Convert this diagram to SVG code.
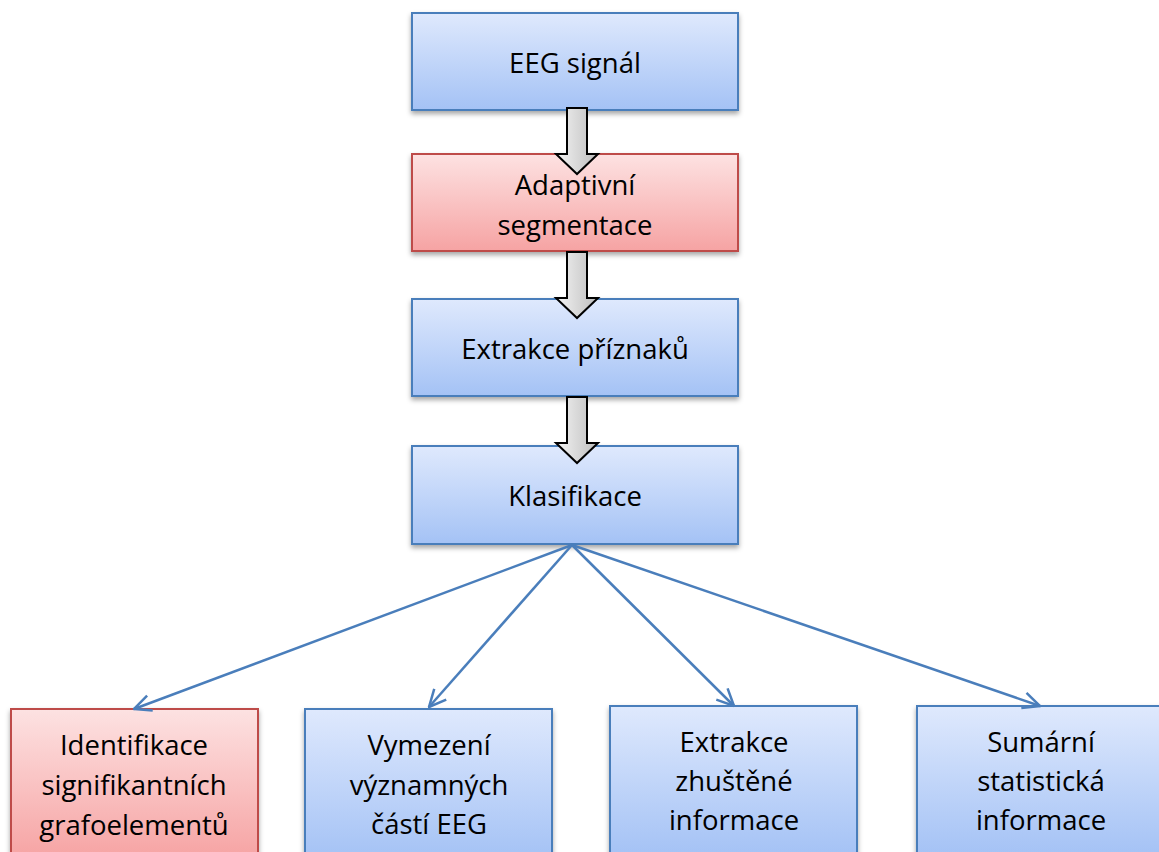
<svg xmlns="http://www.w3.org/2000/svg" width="1159" height="852" viewBox="0 0 1159 852">
<defs>
<linearGradient id="gb" x1="0" y1="0" x2="0" y2="1"><stop offset="0" stop-color="#dfe9fd"/><stop offset="1" stop-color="#a4c2f5"/></linearGradient>
<linearGradient id="gr" x1="0" y1="0" x2="0" y2="1"><stop offset="0" stop-color="#fde2e2"/><stop offset="1" stop-color="#f6a3a3"/></linearGradient>
<linearGradient id="ga" x1="0" y1="0" x2="1" y2="0"><stop offset="0" stop-color="#f4f4f4"/><stop offset="1" stop-color="#bdbdbd"/></linearGradient>
<filter id="sh" x="-10%" y="-10%" width="120%" height="130%"><feDropShadow dx="0" dy="3" stdDeviation="2.5" flood-color="#000" flood-opacity="0.35"/></filter>
<marker id="ah" viewBox="0 0 20 20" refX="19" refY="10" markerWidth="20" markerHeight="20" markerUnits="userSpaceOnUse" orient="auto"><path d="M2,2 L19,10 L2,18" fill="none" stroke="#4a7ebb" stroke-width="2.5"/></marker>
<path id="barrow" d="M-10,0 H10 V46 H21 L0,66 L-21,46 H-10 Z"/>
</defs>
<style>
.bb{fill:url(#gb);stroke:#4a7ebb;stroke-width:2;filter:url(#sh)}
.rb{fill:url(#gr);stroke:#be4b48;stroke-width:2;filter:url(#sh)}
text{font-family:"Open Sans","Liberation Sans",sans-serif;font-size:27.5px;fill:#000;text-anchor:middle}
.ba{fill:url(#ga);stroke:#000;stroke-width:2}
.cn{stroke:#4a7ebb;stroke-width:2.5;fill:none}
</style>
<g id="n1"><rect class="bb" x="412" y="13" width="326" height="97"/><text x="575" y="73">EEG signál</text></g>
<g id="n2"><rect class="rb" x="412" y="154" width="326" height="97"/><text x="575" y="195">Adaptivní</text><text x="575" y="235">segmentace</text></g>
<g id="n3"><rect class="bb" x="412" y="299" width="326" height="97"/><text x="575" y="359">Extrakce příznaků</text></g>
<g id="n4"><rect class="bb" x="412" y="446" width="326" height="98"/><text x="575" y="506">Klasifikace</text></g>
<g id="n5"><rect class="rb" x="11" y="709" width="247" height="150"/><text x="134" y="755">Identifikace</text><text x="134" y="795">signifikantních</text><text x="134" y="835">grafoelementů</text></g>
<g id="n6"><rect class="bb" x="305" y="709" width="247" height="150"/><text x="429" y="755">Vymezení</text><text x="429" y="795">významných</text><text x="429" y="834">částí EEG</text></g>
<g id="n7"><rect class="bb" x="610" y="706" width="247" height="150"/><text x="734" y="752">Extrakce</text><text x="734" y="791">zhuštěné</text><text x="734" y="830">informace</text></g>
<g id="n8"><rect class="bb" x="917" y="706" width="250" height="150"/><text x="1041" y="752">Sumární</text><text x="1041" y="791">statistická</text><text x="1041" y="830">informace</text></g>
<g id="connectors">
<use href="#barrow" class="ba" x="577" y="108"/>
<use href="#barrow" class="ba" x="577" y="252"/>
<use href="#barrow" class="ba" x="577" y="397"/>
<line class="cn" x1="572" y1="545" x2="134" y2="709" marker-end="url(#ah)"/>
<line class="cn" x1="572" y1="545" x2="429" y2="707" marker-end="url(#ah)"/>
<line class="cn" x1="572" y1="545" x2="734" y2="706" marker-end="url(#ah)"/>
<line class="cn" x1="572" y1="545" x2="1040" y2="706" marker-end="url(#ah)"/>
</g>
</svg>
